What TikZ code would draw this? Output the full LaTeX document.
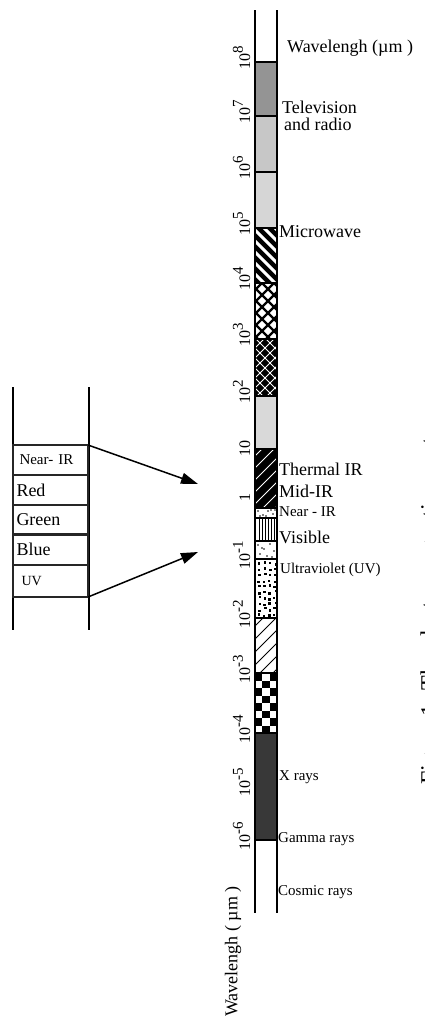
\documentclass[tikz,border=0pt]{standalone}
\usepackage{fontspec}
\setmainfont{Liberation Serif}
\usetikzlibrary{arrows.meta}
\newcommand\tkexp[1]{10\raisebox{0.45em}{\fontsize{15}{15}\selectfont #1}}
\begin{document}
\begin{tikzpicture}[x=1pt,y=-1pt,
  lbl/.style={anchor=west, inner sep=0pt, font=\fontsize{18}{18}\selectfont},
  slbl/.style={anchor=west, inner sep=0pt, font=\fontsize{15}{15}\selectfont},
  tick/.style={rotate=90, anchor=base west, inner sep=0pt, font=\fontsize{16}{16}\selectfont},
  bandline/.style={draw=black, line width=1.2pt},
  colline/.style={line width=1.5pt},
  sbox/.style={draw=black!85, line width=1.6pt, minimum width=75pt, minimum height=30pt,
    text width=68pt, align=left, anchor=north west, inner xsep=3.5pt, inner ysep=0pt, outer sep=0pt},
  arr/.style={line width=1.5pt, -{Triangle[length=17pt,width=11pt]}},
]
\useasboundingbox (0,0) rectangle (424,1021);

% ---------------- main column bands ----------------
\fill[black!42] (255,62) rectangle (277,116);
\fill[black!22] (255,116) rectangle (277,172);
\fill[black!16] (255,172) rectangle (277,228);
% microwave: black with white \ stripes
\begin{scope}
  \clip (255,228) rectangle (277,283);
  \fill[black] (255,228) rectangle (277,283);
  \foreach \k in {-36,-25,...,60} \draw[white, line width=3pt] (250,228+\k) -- ++(40,40);
\end{scope}
% white with black crosshatch
\begin{scope}
  \clip (255,283) rectangle (277,339);
  \foreach \k in {-36,-24,...,72} {
    \draw[black, line width=2.2pt] (250,283+\k) -- ++(40,40);
    \draw[black, line width=2.2pt] (250,283+\k) -- ++(40,-40);
  }
\end{scope}
% black with white thin crosshatch
\begin{scope}
  \clip (255,339) rectangle (277,396);
  \fill[black] (255,339) rectangle (277,396);
  \foreach \k in {-36,-26,...,80} {
    \draw[white, line width=0.9pt] (250,339+\k) -- ++(40,40);
    \draw[white, line width=0.9pt] (250,339+\k) -- ++(40,-40);
  }
\end{scope}
\fill[black!15] (255,396) rectangle (277,449);
% thermal / mid IR: black with thin white / lines
\begin{scope}
  \clip (255,449) rectangle (277,508);
  \fill[black] (255,449) rectangle (277,508);
  \foreach \k in {0,12,...,96} \draw[white, line width=0.8pt] (250,449+\k) -- ++(40,-40);
\end{scope}
% near IR: white with black dots
\begin{scope}
  \clip (255,508) rectangle (277,518);
  \foreach \px/\py in {258/511,263/515,268/511,273/514,260/516,271/510,266/516,275/510}
    \fill[black] (\px,\py) circle (0.9pt);
\end{scope}
% visible: vertical lines
\begin{scope}
  \clip (255,518) rectangle (277,541);
  \foreach \k in {259,262,...,274} \draw[black, line width=1pt] (\k,518) -- (\k,541);
\end{scope}
% sparse dots
\begin{scope}
  \clip (255,541) rectangle (277,559);
  \foreach \px/\py in {258/545,264/549,270/544,274/551,260/554,267/556,272/557,262/548}
    \fill[black] (\px,\py) circle (0.9pt);
\end{scope}
% UV: larger black dots
\begin{scope}
  \clip (255,559) rectangle (277,618);
  \pgfmathsetseed{7}
  \foreach \r in {0,...,9} {
    \foreach \c in {0,...,3} {
      \pgfmathsetmacro\dx{258+\c*5.3+1.2*rand}
      \pgfmathsetmacro\dy{562+\r*5.8+1.4*rand}
      \fill[black] (\dx,\dy) rectangle ++(2.4,2.4);
    }
  }
\end{scope}
% white with thin black / lines
\begin{scope}
  \clip (255,618) rectangle (277,673);
  \foreach \k in {0,13,...,90} \draw[black, line width=0.9pt] (250,618+\k) -- ++(40,-40);
\end{scope}
% checkerboard
\begin{scope}
  \clip (255,673) rectangle (277,733);
  \foreach \r in {0,...,7} {
    \foreach \c in {0,1,2} {
      \pgfmathtruncatemacro\cpar{mod(\r+\c,2)}
      \ifnum\cpar=0
        \fill[black] (255+\c*7.33,673+\r*7.5) rectangle ++(7.33,7.5);
      \fi
    }
  }
\end{scope}
\fill[black!78] (255,733) rectangle (277,840);

% band outlines
\foreach \a/\b in {62/116,116/172,172/228,228/283,283/339,339/396,396/449,449/508,508/518,518/541,541/559,559/618,618/673,673/733,733/840}
  \draw[bandline] (255,\a) rectangle (277,\b);

% column lines
\draw[colline] (255,10) -- (255,913);
\draw[colline] (277,10) -- (277,913);

% ---------------- tick labels ----------------
\foreach \b/\e/\nm in {62/8/ta,116/7/tb,172/6/tc,228/5/td,283/4/te,339/3/tf,396/2/tg}
  \node[tick] (\nm) at (250,\b+8) {\tkexp{\e}};
\node[tick] (th) at (250,457) {10};
\node[tick] (ti) at (250,502) {1};
\foreach \b/\e/\nm in {559/-1/tj,618/-2/tk,673/-3/tl,733/-4/tm,786/-5/tn,840/-6/to}
  \node[tick] (\nm) at (250,\b+11) {\tkexp{\e}};

% ---------------- right labels ----------------
\node[lbl] (wl) at (287,48) {Wavelengh (µm )};
\node[lbl, align=left, font=\fontsize{18}{17}\selectfont] (tv) at (282,116) {Television\\\hspace*{2pt}and radio};
\node[lbl] (mw) at (279,232) {Microwave};
\node[lbl] (tir) at (279,469) {Thermal IR};
\node[lbl] (mir) at (279,491) {Mid-IR};
\node[slbl] (nir2) at (279,512) {Near - IR};
\node[lbl] (vis) at (279,537) {Visible};
\node[slbl] (uvl) at (280,570) {Ultraviolet (UV)};
\node[slbl] (xr) at (279,777) {X rays};
\node[slbl] (gr) at (278,839) {Gamma rays};
\node[slbl] (cr) at (278,892) {Cosmic rays};

% bottom axis title
\node[rotate=90, anchor=west, inner sep=0pt, font=\fontsize{18}{18}\selectfont] (axt) at (233,1017) {Wavelengh ( µm )};

% clipped caption at the right edge
\node[rotate=90, anchor=base west, inner sep=0pt, font=\fontsize{24}{24}\selectfont] (cap) at (437,785) {Figure 1. The electromagnetic spectrum};

% ---------------- left column ----------------
\draw[colline] (13,387) -- (13,630);
\draw[colline] (89,387) -- (89,630);
\node[sbox, font=\fontsize{15}{15}\selectfont] (bnir) at (13,445) {\hspace*{3pt}Near- IR};
\node[sbox, font=\fontsize{18}{18}\selectfont] (bred) at (13,475) {Red};
\node[sbox, font=\fontsize{18}{18}\selectfont] (bgreen) at (13,505) {Green};
\node[sbox, font=\fontsize{18}{18}\selectfont, minimum height=31pt] (bblue) at (13,534) {Blue};
\node[sbox, font=\fontsize{14}{14}\selectfont, minimum height=32pt] (buv) at (13,565) {\hspace*{5pt}UV};

\coordinate (tip1) at (198,484);
\coordinate (tip2) at (198,552);
\draw[arr] (bnir.north east) -- (tip1);
\draw[arr] (buv.south east) -- (tip2);
\end{tikzpicture}
\end{document}
